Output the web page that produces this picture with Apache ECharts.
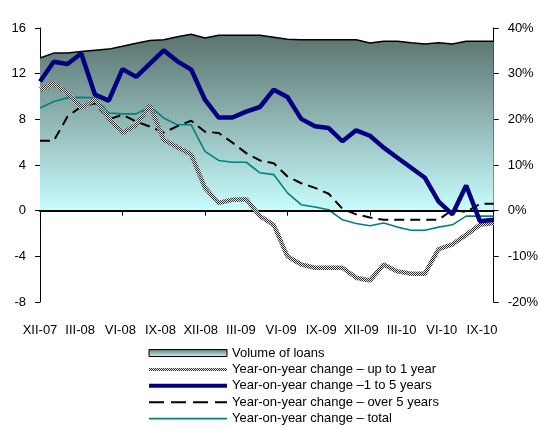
<!DOCTYPE html>
<html>
<head>
<meta charset="utf-8">
<script src="https://cdn.jsdelivr.net/npm/echarts@6/dist/echarts.min.js"></script>
<style>
  html, body { margin: 0; padding: 0; background: #fff; }
  #chart { width: 541px; height: 428px; }
</style>
</head>
<body>
<div id="chart"></div>
<script>
// Monthly observations, XII-07 .. IX-10
const months = [
  'XII-07',
  'I-08', 'II-08', 'III-08', 'IV-08', 'V-08', 'VI-08', 'VII-08', 'VIII-08', 'IX-08', 'X-08', 'XI-08', 'XII-08',
  'I-09', 'II-09', 'III-09', 'IV-09', 'V-09', 'VI-09', 'VII-09', 'VIII-09', 'IX-09', 'X-09', 'XI-09', 'XII-09',
  'I-10', 'II-10', 'III-10', 'IV-10', 'V-10', 'VI-10', 'VII-10', 'VIII-10', 'IX-10'
];
// Quarter labels shown under the plot
const quarterLabels = ['XII-07', 'III-08', 'VI-08', 'IX-08', 'XII-08', 'III-09', 'VI-09', 'IX-09', 'XII-09', 'III-10', 'VI-10', 'IX-10'];

// Volume of loans (left axis)
const volume = [13.37, 13.8, 13.8, 13.95, 14.05, 14.15, 14.4, 14.67, 14.9, 14.97, 15.24, 15.45, 15.12,
  15.37, 15.37, 15.37, 15.37, 15.2, 15.02, 14.97, 14.97, 14.97, 14.97, 14.97, 14.68,
  14.83, 14.83, 14.71, 14.6, 14.71, 14.6, 14.83, 14.83, 14.83];
// Year-on-year changes, % (right axis)
const upTo1Year = [26.5, 27.8, 25.8, 22.5, 24.3, 20.3, 17.0, 18.8, 23.0, 15.5, 13.9, 12.3, 5.0,
  1.7, 2.4, 2.5, -1.2, -3.1, -10.0, -11.8, -12.5, -12.5, -12.5, -14.7, -15.3,
  -11.8, -13.3, -13.8, -13.8, -8.4, -7.4, -5.3, -3.1, -2.7];
const oneTo5Years = [28.3, 32.6, 32.1, 34.4, 25.4, 24.1, 31.0, 29.3, 32.2, 35.1, 32.7, 30.9, 24.3,
  20.4, 20.4, 21.7, 22.7, 26.5, 24.9, 20.1, 18.5, 18.1, 15.2, 17.6, 16.4,
  13.8, 11.6, 9.4, 7.2, 2.0, -0.8, 5.5, -2.3, -2.0];
const over5Years = [15.3, 15.3, 20.6, 22.8, 23.5, 20.0, 21.0, 19.5, 18.4, 17.1, 18.5, 19.7, 17.3,
  17.0, 14.9, 12.6, 11.0, 10.4, 7.5, 6.0, 5.0, 3.7, 0.4, -0.8, -1.5,
  -2.0, -2.0, -2.0, -2.0, -2.0, 0.2, -0.3, 1.5, 1.5];
const total = [22.5, 23.9, 24.7, 24.8, 24.7, 21.4, 21.2, 21.2, 22.8, 20.3, 18.8, 18.8, 13.0,
  11.0, 10.6, 10.6, 8.3, 7.9, 3.9, 1.3, 0.8, 0.2, -2.0, -2.8, -3.3,
  -2.7, -3.6, -4.3, -4.3, -3.6, -3.1, -1.2, -1.2, -1.2];

const names = {
  volume: 'Volume of loans',
  upTo1: 'Year-on-year change \u2013 up to 1 year',
  oneTo5: 'Year-on-year change \u20131 to 5 years',
  over5: 'Year-on-year change \u2013 over 5 years',
  total: 'Year-on-year change \u2013 total'
};

const font = { fontFamily: '"Liberation Sans", Arial, sans-serif', fontSize: 13, color: '#000' };

// small black/white checker used as the stroke of the short-term line
function checker() {
  const c = document.createElement('canvas');
  c.width = 2; c.height = 2;
  const g = c.getContext('2d');
  g.fillStyle = '#e4e4e4'; g.fillRect(0, 0, 2, 2);
  g.fillStyle = '#2e2e2e'; g.fillRect(0, 0, 1, 1); g.fillRect(1, 1, 1, 1);
  return { image: c, repeat: 'repeat' };
}
const hatch = checker();

const areaFill = new echarts.graphic.LinearGradient(0, 0, 0, 1, [
  { offset: 0, color: '#5a726e' },
  { offset: 1, color: '#c8fdfd' }
]);

// legend entry for a line series: line only, no marker
function lineEntry(name, width, dash) {
  const ls = { width: width };
  if (dash) ls.type = dash;
  return { name: name, itemStyle: { opacity: 0 }, lineStyle: ls };
}

const chart = echarts.init(document.getElementById('chart'), null, { renderer: 'canvas' });

chart.setOption({
  animation: false,
  textStyle: font,
  grid: [
    { left: 40, right: 43, top: 28, bottom: 126 },
    { left: 40, right: 59, top: 28, bottom: 126 }
  ],
  xAxis: [
    {
      type: 'category', gridIndex: 0, data: months, boundaryGap: false, z: 5,
      axisLine: { onZero: true, onZeroAxisIndex: 0, lineStyle: { color: '#000', width: 2 } },
      axisTick: { interval: 5, length: 5, lineStyle: { color: '#000', width: 1 } },
      axisLabel: { show: false },
      splitLine: { show: false }
    },
    {
      type: 'category', gridIndex: 1, data: quarterLabels, boundaryGap: false,
      axisLine: { show: false }, axisTick: { show: false },
      axisLabel: Object.assign({ interval: 0, margin: 22 }, font),
      splitLine: { show: false }
    }
  ],
  yAxis: [
    {
      type: 'value', gridIndex: 0, min: -8, max: 16, interval: 4,
      axisLine: { show: true, lineStyle: { color: '#000', width: 1 } },
      axisTick: { show: true, length: 5, lineStyle: { color: '#000' } },
      axisLabel: Object.assign({ margin: 14 }, font),
      splitLine: { show: false }
    },
    {
      type: 'value', gridIndex: 0, min: -20, max: 40, interval: 10, position: 'right',
      axisLine: { show: true, lineStyle: { color: '#000', width: 1 } },
      axisTick: { show: true, length: 5, lineStyle: { color: '#000' } },
      axisLabel: Object.assign({ margin: 14, formatter: '{value}%' }, font),
      splitLine: { show: false }
    },
    { type: 'value', gridIndex: 1, show: false }
  ],
  legend: {
    orient: 'vertical', left: 142, top: 341.5, height: 120,
    itemWidth: 78, itemHeight: 7, itemGap: 3.4,
    textStyle: Object.assign({ lineHeight: 13 }, font),
    data: [
      { name: names.volume, icon: 'rect', itemStyle: { color: areaFill, borderColor: '#000', borderWidth: 1 } },
      lineEntry(names.upTo1, 3),
      lineEntry(names.oneTo5, 4),
      lineEntry(names.over5, 2, [15, 7]),
      lineEntry(names.total, 1.6)
    ]
  },
  series: [
    {
      name: names.volume, type: 'line', xAxisIndex: 0, yAxisIndex: 0, data: volume,
      symbol: 'none', z: 1,
      itemStyle: { color: '#8fb0ad' },
      lineStyle: { color: '#000', width: 1.5 },
      areaStyle: { color: areaFill, opacity: 1 }
    },
    {
      name: names.total, type: 'line', xAxisIndex: 0, yAxisIndex: 1, data: total,
      symbol: 'none', z: 3,
      itemStyle: { color: '#008080' },
      lineStyle: { color: '#008080', width: 1.6 }
    },
    {
      name: names.over5, type: 'line', xAxisIndex: 0, yAxisIndex: 1, data: over5Years,
      symbol: 'none', z: 4,
      itemStyle: { color: '#000' },
      lineStyle: { color: '#000', width: 2, type: [10, 6] }
    },
    {
      name: names.upTo1, type: 'line', xAxisIndex: 0, yAxisIndex: 1, data: upTo1Year,
      symbol: 'none', z: 5,
      itemStyle: { color: '#888' },
      lineStyle: { color: hatch, width: 4.5 }
    },
    {
      name: names.oneTo5, type: 'line', xAxisIndex: 0, yAxisIndex: 1, data: oneTo5Years,
      symbol: 'none', z: 6,
      itemStyle: { color: '#000080' },
      lineStyle: { color: '#000080', width: 4.5 }
    }
  ]
});
</script>
</body>
</html>
